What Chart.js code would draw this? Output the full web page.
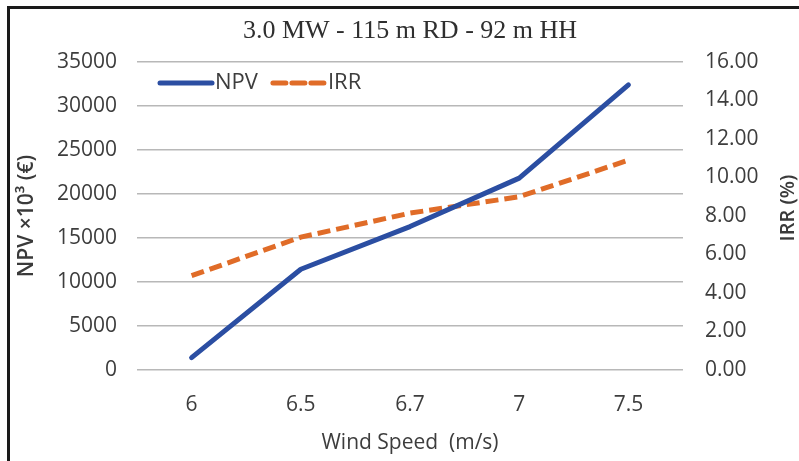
<!DOCTYPE html>
<html>
<head>
<meta charset="utf-8">
<script src="https://cdn.jsdelivr.net/npm/chart.js@4/dist/chart.umd.min.js"></script>
<style>
  html, body { margin: 0; padding: 0; background: #fff; }
  #wrap { position: relative; width: 799px; height: 461px; }
  #frame {
    position: absolute; left: 7px; top: 6px; right: -4px; bottom: -4px;
    border-left: 3px solid #1a1a1a; border-top: 3px solid #1a1a1a;
    pointer-events: none;
  }
</style>
</head>
<body>
<div id="wrap">
  <canvas id="npvChart" width="799" height="461"></canvas>
  <div id="frame"></div>
</div>
<script>
// wind speed categories (m/s)
const speeds = ["6", "6.5", "6.7", "7", "7.5"];
// net present value, thousands of euro
const npvValues = [1400, 11450, 16300, 21800, 32400];
// internal rate of return, %
const irrValues = [4.9, 6.9, 8.15, 9.0, 10.9];

const chartTitle = "3.0 MW - 115 m RD - 92 m HH";
const irrTitle = "IRR (%)";
const tickFont = { family: "Open Sans", size: 21 };
const tickColor = "#3d3d3d";

// title centred over the plot, legend inside the plot (top left),
// and the right axis title read bottom to top
const extras = {
  id: "extras",
  afterDraw(chart) {
    const ctx = chart.ctx;
    const area = chart.chartArea;
    ctx.save();

    ctx.textAlign = "center";
    ctx.textBaseline = "middle";
    ctx.font = "26px 'Liberation Serif'";
    ctx.fillStyle = "#2f2f2f";
    ctx.fillText(chartTitle, (area.left + area.right) / 2, 31);

    ctx.textAlign = "left";
    ctx.font = "22px 'Open Sans'";
    let x = area.left + 23;
    const y = area.top + 21;
    chart.data.datasets.forEach(ds => {
      ctx.strokeStyle = ds.borderColor;
      ctx.lineWidth = ds.borderWidth;
      ctx.lineCap = "round";
      ctx.setLineDash(ds.borderDash || []);
      ctx.beginPath();
      ctx.moveTo(x, y);
      ctx.lineTo(x + 52, y);
      ctx.stroke();
      ctx.setLineDash([]);
      ctx.fillStyle = tickColor;
      ctx.fillText(ds.label, x + 55, y);
      x += 55 + ctx.measureText(ds.label).width + 15;
    });

    ctx.translate(chart.width - 11, (area.top + area.bottom) / 2 - 8);
    ctx.rotate(-Math.PI / 2);
    ctx.textAlign = "center";
    ctx.font = "600 20px 'Open Sans'";
    ctx.fillStyle = "#3a3a3a";
    ctx.fillText(irrTitle, 0, 0);
    ctx.restore();
  }
};

new Chart(document.getElementById("npvChart"), {
  type: "line",
  data: {
    labels: speeds,
    datasets: [
      {
        label: "NPV",
        data: npvValues,
        yAxisID: "y",
        borderColor: "#2B4EA2",
        borderWidth: 5,
        pointRadius: 0,
        tension: 0,
        borderCapStyle: "round",
        borderJoinStyle: "round"
      },
      {
        label: "IRR",
        data: irrValues,
        yAxisID: "y1",
        borderColor: "#E06C28",
        borderWidth: 5,
        borderDash: [13, 6],
        pointRadius: 0,
        tension: 0
      }
    ]
  },
  options: {
    responsive: false,
    animation: false,
    layout: { padding: { top: 62 } },
    plugins: {
      legend: { display: false },
      tooltip: { enabled: false }
    },
    scales: {
      x: {
        offset: true,
        grid: { display: false },
        border: { display: false },
        ticks: { color: tickColor, font: tickFont, padding: 14 },
        title: {
          display: true,
          text: "Wind Speed  (m/s)",
          color: tickColor,
          font: { family: "Open Sans", size: 21 },
          padding: { top: 0, bottom: 5 }
        },
        afterFit: s => { s.height = 91; }
      },
      y: {
        position: "left",
        min: 0,
        max: 35000,
        ticks: {
          stepSize: 5000,
          color: tickColor,
          font: tickFont,
          padding: 20,
          callback: v => String(v)
        },
        grid: { color: "#B8B8B8", lineWidth: 1.5, drawTicks: false },
        border: { display: false },
        title: {
          display: true,
          text: "NPV ×10³ (€)",
          color: "#3a3a3a",
          font: { family: "Open Sans", size: 21, weight: "600" },
          padding: { top: 14, bottom: 0 }
        },
        afterFit: s => { s.width = 137; }
      },
      y1: {
        position: "right",
        min: 0,
        max: 16,
        ticks: {
          stepSize: 2,
          color: tickColor,
          font: tickFont,
          padding: 22,
          callback: v => v.toFixed(2)
        },
        grid: { display: false, drawTicks: false },
        border: { display: false },
        afterFit: s => { s.width = 116; }
      }
    }
  },
  plugins: [extras]
});
</script>
</body>
</html>
